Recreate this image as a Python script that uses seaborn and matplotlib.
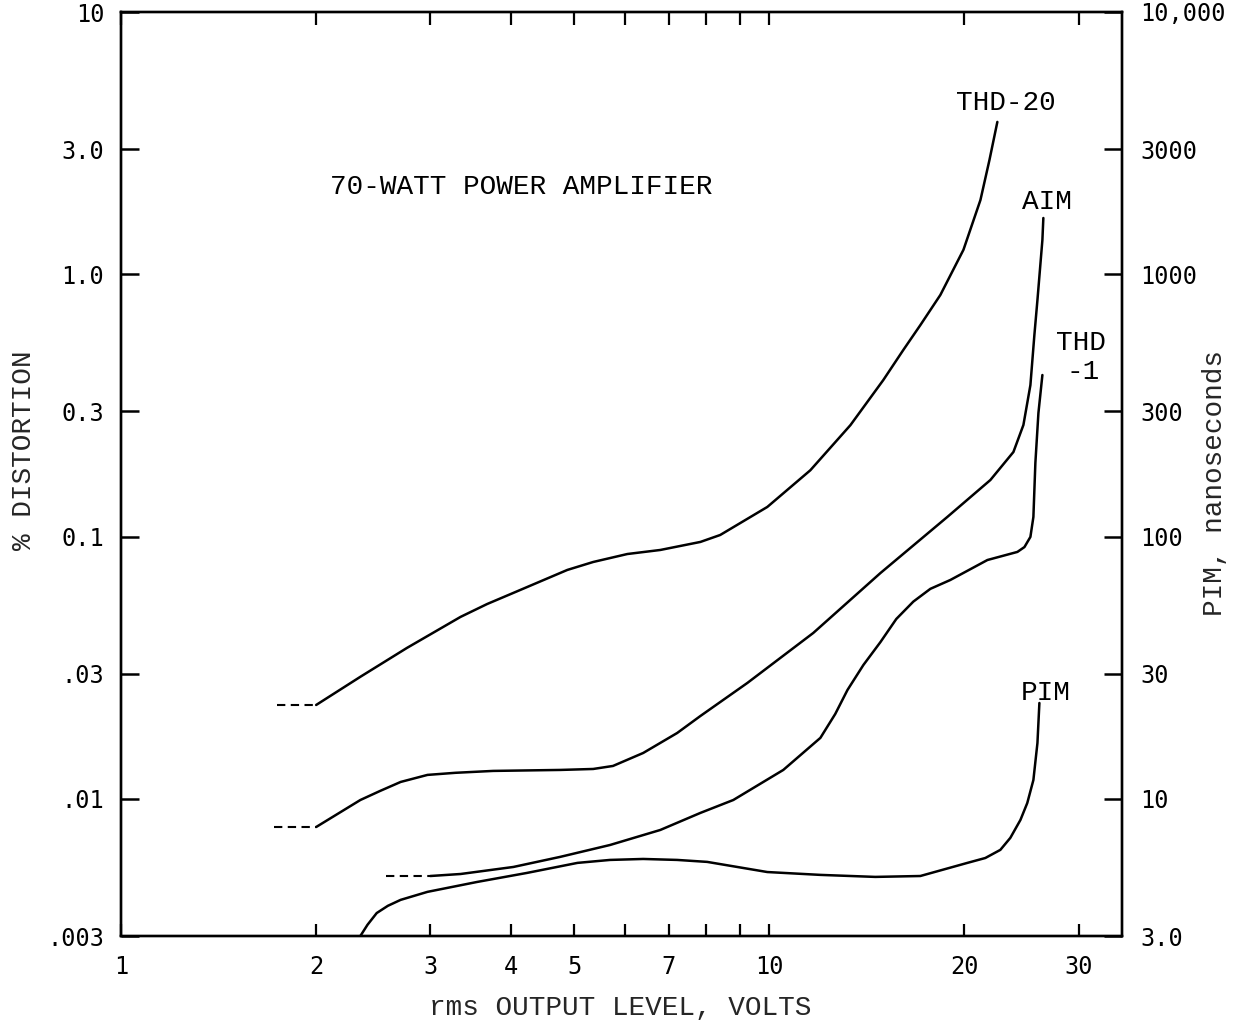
import matplotlib
matplotlib.use("Agg")
import matplotlib.pyplot as plt
import numpy as np
import pandas as pd
import seaborn as sns
from matplotlib.ticker import FixedLocator, FixedFormatter, NullLocator

# ---------------- data ----------------
thd20_v = [2.00, 2.34, 2.76, 3.34, 3.67, 4.03, 4.88, 5.35, 6.04, 6.79, 7.83, 8.40, 9.93,
           11.57, 13.34, 14.99, 16.10, 17.10, 18.36, 19.93, 21.17, 21.86, 22.48]
thd20_d = [0.0228, 0.0292, 0.0376, 0.0494, 0.0553, 0.0610, 0.0746, 0.0800, 0.0858, 0.0889,
           0.0954, 0.1014, 0.1297, 0.179, 0.266, 0.395, 0.515, 0.640, 0.834, 1.24, 1.92,
           2.73, 3.81]
thd20_dash_v = [1.74, 2.00]
thd20_dash_d = [0.0228, 0.0228]

aim_v = [2.00, 2.34, 2.51, 2.70, 2.97, 3.28, 3.75, 4.76, 5.35, 5.74, 6.39, 7.21, 7.83,
         9.25, 11.69, 14.84, 18.82, 21.93, 23.80, 24.66, 25.28, 25.64, 25.92, 26.38, 26.47]
aim_d = [0.00781, 0.00990, 0.01072, 0.01160, 0.01234, 0.01257, 0.01278, 0.01289, 0.01300,
         0.01335, 0.01496, 0.01783, 0.0207, 0.02766, 0.0429, 0.0726, 0.1188, 0.1643,
         0.2101, 0.2664, 0.378, 0.587, 0.798, 1.351, 1.639]
aim_dash_v = [1.72, 2.00]
aim_dash_d = [0.00781, 0.00781]

thd1_v = [3.00, 3.34, 4.03, 4.76, 5.68, 6.79, 7.83, 8.80, 10.51, 11.99, 12.64, 13.20,
          13.97, 14.84, 15.70, 16.68, 17.72, 19.02, 21.70, 24.14, 24.75, 25.28, 25.55,
          25.73, 26.01, 26.38]
thd1_d = [0.00508, 0.00517, 0.00550, 0.00601, 0.00667, 0.00761, 0.00884, 0.0099, 0.01289,
          0.01708, 0.02107, 0.0260, 0.0324, 0.0396, 0.0485, 0.0565, 0.0632, 0.0683, 0.0814,
          0.0874, 0.0912, 0.0997, 0.1188, 0.1908, 0.2959, 0.413]
thd1_dash_v = [2.56, 3.00]
thd1_dash_d = [0.00508, 0.00508]

pim_v = [2.34, 2.40, 2.48, 2.58, 2.70, 2.97, 3.54, 4.23, 5.06, 5.68, 6.39, 7.21, 8.02,
         9.93, 11.99, 14.57, 17.10, 20.21, 21.54, 22.72, 23.54, 24.40, 25.00, 25.55,
         25.92, 26.10]
pim_d = [0.00300, 0.00331, 0.00367, 0.00391, 0.00412, 0.00442, 0.00482, 0.00522, 0.00570,
         0.00585, 0.00590, 0.00585, 0.00575, 0.00526, 0.00513, 0.00504, 0.00508, 0.00570,
         0.00595, 0.00639, 0.0071, 0.00831, 0.00964, 0.01180, 0.01633, 0.0232]

x_ticks = [1, 2, 3, 4, 5, 6, 7, 8, 9, 10, 20, 30]
x_tick_labels = ["1", "2", "3", "4", "5", "", "7", "", "", "10", "20", "30"]
y_ticks = [0.003, 0.01, 0.03, 0.1, 0.3, 1.0, 3.0, 10]
y_tick_labels = [".003", ".01", ".03", "0.1", "0.3", "1.0", "3.0", "10"]
y2_ticks = [3, 10, 30, 100, 300, 1000, 3000, 10000]
y2_tick_labels = ["3.0", "10", "30", "100", "300", "1000", "3000", "10,000"]

# ---------------- style ----------------
sns.set_style("ticks")
plt.rcParams["font.family"] = ["DejaVu Sans Mono"]
TYPE = ["Liberation Mono", "DejaVu Sans Mono"]

fig = plt.figure(figsize=(12.52, 10.32), dpi=100)
ax = fig.add_axes([121 / 1252, 1 - 936 / 1032, (1122 - 121) / 1252, (936 - 12) / 1032])

LW = 1.8
solid = [(thd20_v, thd20_d), (aim_v, aim_d), (thd1_v, thd1_d), (pim_v, pim_d)]
dashed = [(thd20_dash_v, thd20_dash_d), (aim_dash_v, aim_dash_d), (thd1_dash_v, thd1_dash_d)]
for v, d in solid:
    df = pd.DataFrame({"volts": v, "dist": d})
    sns.lineplot(data=df, x="volts", y="dist", ax=ax, color="black", lw=LW,
                 estimator=None, sort=False)
for v, d in dashed:
    df = pd.DataFrame({"volts": v, "dist": d})
    sns.lineplot(data=df, x="volts", y="dist", ax=ax, color="black", lw=1.5,
                 estimator=None, sort=False, dashes=False, linestyle=(0, (4, 2.6)))
for ln in ax.get_lines():
    ln.set_solid_joinstyle("round")
    ln.set_solid_capstyle("round")

ax.set_xscale("log")
ax.set_yscale("log")
ax.set_xlim(1, 35)
ax.set_ylim(0.003, 10)

ax.xaxis.set_major_locator(FixedLocator(x_ticks))
ax.xaxis.set_major_formatter(FixedFormatter(x_tick_labels))
ax.xaxis.set_minor_locator(NullLocator())
ax.yaxis.set_major_locator(FixedLocator(y_ticks))
ax.yaxis.set_major_formatter(FixedFormatter(y_tick_labels))
ax.yaxis.set_minor_locator(NullLocator())

ax.tick_params(axis="x", which="major", direction="in", top=True, bottom=True,
               length=9, width=1.6, labelsize=17, pad=14, colors="black")
ax.tick_params(axis="y", which="major", direction="in", left=True, right=False,
               length=13, width=1.8, labelsize=17, pad=12, colors="black")
for s in ax.spines.values():
    s.set_linewidth(1.7)
    s.set_color("black")

ax2 = ax.twinx()
ax2.set_yscale("log")
ax2.set_ylim(3, 10000)
ax2.yaxis.set_major_locator(FixedLocator(y2_ticks))
ax2.yaxis.set_major_formatter(FixedFormatter(y2_tick_labels))
ax2.yaxis.set_minor_locator(NullLocator())
ax2.tick_params(axis="y", which="major", direction="in", length=13, width=1.8,
                labelsize=17, pad=13, colors="black")
for s in ax2.spines.values():
    s.set_linewidth(1.7)
    s.set_color("black")

# axis labels
ax.set_xlabel("rms OUTPUT LEVEL, VOLTS", fontsize=20, family=TYPE)
ax.xaxis.set_label_coords(0.4985, -0.078)
ax.xaxis.label.set_va("center")
ax.set_ylabel("% DISTORTION", fontsize=20, family=TYPE)
ax.yaxis.set_label_coords(-0.097, 0.526)
ax.yaxis.label.set_va("center")
ax2.set_ylabel("PIM, nanoseconds", fontsize=20, family=TYPE, rotation=90)
ax2.yaxis.set_label_coords(1.093, 0.49)
ax2.yaxis.label.set_va("center")

# annotations
ann = dict(fontsize=20, family=TYPE, color="black", va="center", ha="left")
ax.text(2.10, 2.15, "70-WATT POWER AMPLIFIER", **ann)
ax.text(19.44, 4.50, "THD-20", **ann)
ax.text(24.57, 1.887, "AIM", **ann)
ax.text(27.73, 0.547, "THD", **ann)
ax.text(32.3, 0.424, "-1", fontsize=20, family=TYPE, color="black", va="center", ha="right")
ax.text(24.40, 0.02533, "PIM", **ann)

fig.savefig("out.png", dpi=100, facecolor="white")
